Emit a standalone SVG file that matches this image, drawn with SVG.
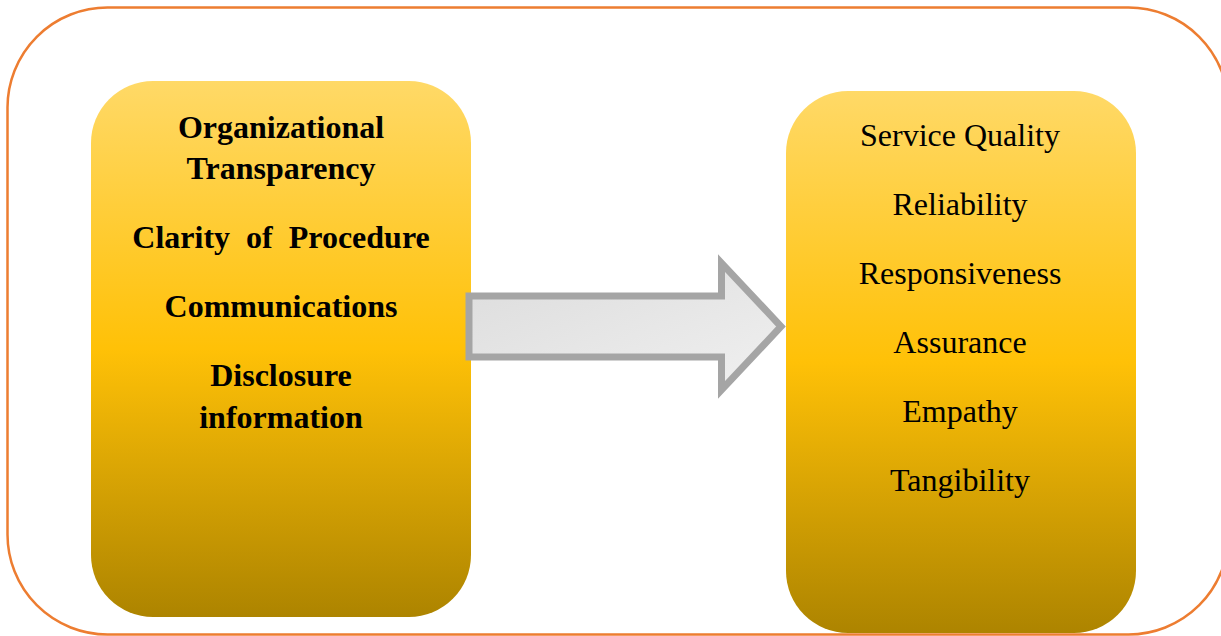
<svg xmlns="http://www.w3.org/2000/svg" width="1221" height="636" viewBox="0 0 1221 636">
<defs>
<linearGradient id="gold" x1="0" y1="0" x2="0" y2="1">
<stop offset="0" stop-color="#FFD967"/>
<stop offset="0.5" stop-color="#FFC107"/>
<stop offset="1" stop-color="#AD8400"/>
</linearGradient>
<linearGradient id="grey" x1="0" y1="0" x2="1" y2="1">
<stop offset="0" stop-color="#DCDCDC"/>
<stop offset="1" stop-color="#F0F0F0"/>
</linearGradient>
<style>
.box{fill:url(#gold);}
.t{font-family:"Liberation Serif","Times New Roman",serif;font-size:32px;fill:#000;text-anchor:middle;}
.b{font-weight:bold;}
</style>
</defs>
<rect id="frame" x="7.5" y="7.5" width="1221" height="627" rx="100" ry="100" fill="#fff" stroke="#ED7D31" stroke-width="2.5"/>
<g id="left-node">
<rect class="box" x="91" y="81" width="380" height="536" rx="62" ry="62"/>
<text class="t b" x="281" y="138">Organizational</text>
<text class="t b" x="281" y="179">Transparency</text>
<text class="t b" x="281" y="248" xml:space="preserve">Clarity  of  Procedure</text>
<text class="t b" x="281" y="317">Communications</text>
<text class="t b" x="281" y="386">Disclosure</text>
<text class="t b" x="281" y="428">information</text>
</g>
<g id="right-node">
<rect class="box" x="786" y="91" width="350" height="542" rx="62" ry="62"/>
<text class="t" x="960" y="146">Service Quality</text>
<text class="t" x="960" y="215">Reliability</text>
<text class="t" x="960" y="284">Responsiveness</text>
<text class="t" x="960" y="353">Assurance</text>
<text class="t" x="960" y="422">Empathy</text>
<text class="t" x="960" y="491">Tangibility</text>
</g>
<g id="connectors">
<polygon points="469,296 721.5,296 721.5,263 781,326.5 721.5,390 721.5,357 469,357" fill="url(#grey)" stroke="#A5A5A5" stroke-width="7"/>
</g>
</svg>
